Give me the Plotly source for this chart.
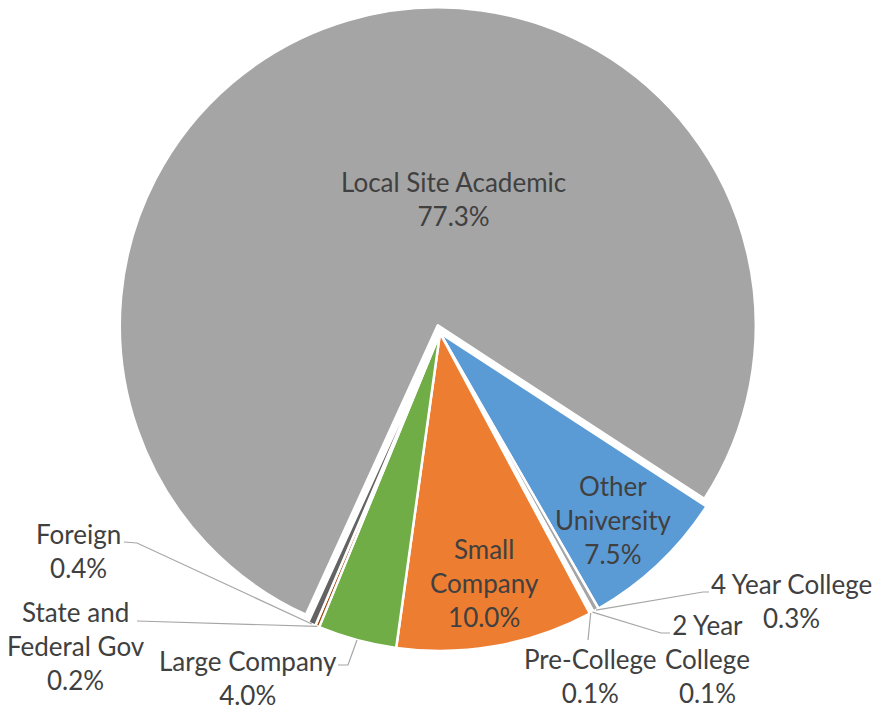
import math
import plotly.graph_objects as go

# ---- data -------------------------------------------------------------
categories = ["Local Site Academic", "Other University", "4 Year College",
              "2 Year College", "Pre-College", "Small Company",
              "Large Company", "State and Federal Gov", "Foreign"]
shares = [77.3, 7.5, 0.3, 0.1, 0.1, 10.0, 4.0, 0.2, 0.4]
# how each category name is broken over lines in its label
label_lines = ["Local Site Academic", "Other<br>University", "4 Year College",
               "2 Year<br>College", "Pre-College", "Small<br>Company",
               "Large Company", "State and<br>Federal Gov", "Foreign"]

# ---- styling ----------------------------------------------------------
colors = ["#A5A5A5", "#5B9BD5", "#A5A5A5", "#A5A5A5", "#A5A5A5",
          "#ED7D31", "#70AD47", "#9E480E", "#636363"]
pulls = [0.025, 0, 0, 0, 0, 0, 0, 0, 0]
W, H = 875, 713
CX, CY, R = 440, 333, 318          # centre / radius of the un-pulled pie (px)
ROT = 204.5                         # start angle of first slice, clockwise from 12 o'clock
FONT = "Lato"
FONT_SIZE = 26
TEXT = "#404040"
LEADER = "#A6A6A6"

# label block centres (px)
label_pos = [(453, 199), (613, 520), (791, 601), (707, 659), (590, 676),
             (484, 583), (248, 678), (76, 646), (78, 551)]
# leader-line points on the label side (px); the pie end is computed
leader_pts = {
    2: [(709, 592), (703, 592)],
    3: [(670, 633), (661, 633)],
    4: [(588, 640)],
    6: [(338, 665), (348, 665)],
    7: [(137, 621)],
    8: [(124, 542), (137, 543)],
}


def to_paper(x, y):
    return x / W, 1 - y / H


total = sum(shares)
maxpull = max(pulls)
half = R * (1 + maxpull)
x0, y1 = to_paper(CX - half, CY - half)
x1, y0 = to_paper(CX + half, CY + half)

fig = go.Figure(go.Pie(
    labels=categories,
    values=shares,
    sort=False,
    direction="clockwise",
    rotation=ROT,
    pull=pulls,
    marker=dict(colors=colors, line=dict(color="white", width=2.5)),
    textinfo="none",
    hoverinfo="label+percent",
    domain=dict(x=[x0, x1], y=[y0, y1]),
    showlegend=False,
))

annotations = []
shapes = []
cum = 0.0
for i, (name, v) in enumerate(zip(label_lines, shares)):
    mid = ROT + (cum + v / 2) / total * 360
    cum += v
    lx, ly = label_pos[i]
    px, py = to_paper(lx, ly)
    annotations.append(dict(
        x=px, y=py, xref="paper", yref="paper", showarrow=False,
        text=f"{name}<br>{v:.1f}%", align="center",
        xanchor="center", yanchor="middle",
        font=dict(family=FONT, size=FONT_SIZE, color=TEXT),
    ))
    if i in leader_pts:
        a = math.radians(mid)
        ax = CX + R * math.sin(a)
        ay = CY - R * math.cos(a)
        pts = leader_pts[i] + [(ax, ay)]
        path = ""
        for k, (qx, qy) in enumerate(pts):
            ux, uy = to_paper(qx, qy)
            path += ("M" if k == 0 else "L") + f"{ux},{uy} "
        shapes.append(dict(type="path", xref="paper", yref="paper", path=path,
                           line=dict(color=LEADER, width=1.2)))

fig.update_layout(
    width=W, height=H,
    margin=dict(l=0, r=0, t=0, b=0),
    paper_bgcolor="white",
    plot_bgcolor="white",
    annotations=annotations,
    shapes=shapes,
)

fig.write_html("out.html")
